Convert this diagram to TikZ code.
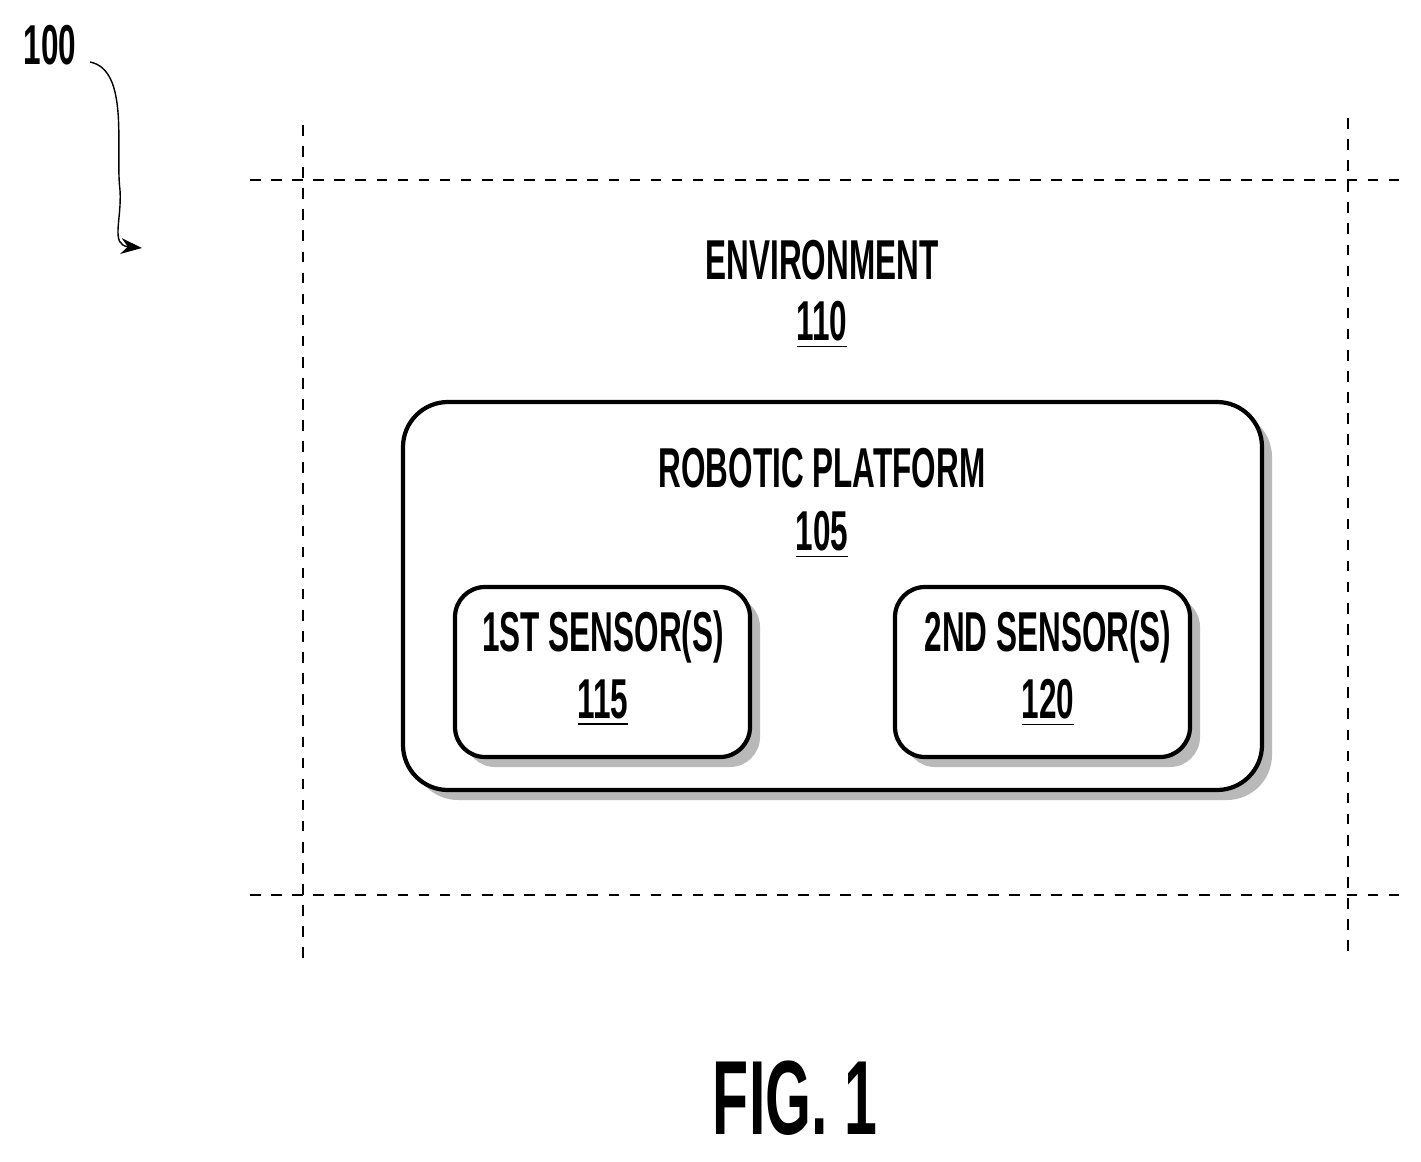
\documentclass[tikz,border=0pt]{standalone}
\usepackage{fontspec}
\setmainfont{Liberation Sans}
\usetikzlibrary{shadows,arrows.meta}
\newcommand{\nar}[1]{\scalebox{0.56}[1]{\bfseries #1}}
\tikzset{
  lbl/.style={font=\fontsize{16}{19}\selectfont, align=center},
  box/.style={draw, very thick, rounded corners=0.45cm, fill=white,
    drop shadow={shadow xshift=0.1cm, shadow yshift=-0.1cm, fill=gray!55, opacity=1}},
  border/.style={dashed, thin}
}
\begin{document}
\begin{tikzpicture}
    \useasboundingbox (0,0) rectangle (14.21,-11.61);
    % dashed environment boundary
    \draw[border](2.5,-1.8)--(14.0,-1.8);
    \draw[border](2.5,-8.95)--(14.0,-8.95);
    \draw[border](3.03,-1.25)--(3.03,-9.58);
    \draw[border](13.48,-1.18)--(13.48,-9.52);

    \node[lbl] (env) at (8.22,-2.6) {\nar{ENVIRONMENT}};
    \node[lbl] (envnum) at (8.22,-3.25) {\nar{\underline{110}}};

    \draw[box](4.03,-4.02) rectangle (12.62,-7.9);
    \node[lbl] (rob) at (8.22,-4.68) {\nar{ROBOTIC PLATFORM}};
    \node[lbl] (robnum) at (8.22,-5.35) {\nar{\underline{105}}};

    \draw[box,rounded corners=0.3cm](4.55,-5.87) rectangle (7.5,-7.57);
    \node[lbl] (s1) at (6.03,-6.37) {\nar{1ST SENSOR(S)}};
    \node[lbl] (s1num) at (6.03,-7.03) {\nar{\underline{115}}};

    \draw[box,rounded corners=0.3cm](8.95,-5.87) rectangle (11.9,-7.57);
    \node[lbl] (s2) at (10.48,-6.37) {\nar{2ND SENSOR(S)}};
    \node[lbl] (s2num) at (10.48,-7.03) {\nar{\underline{120}}};

    \node[lbl] (ref) at (0.5,-0.45) {\nar{100}};
    \coordinate (tip) at (1.42,-2.48);
    \draw[-{Stealth[length=6pt]},thin](0.9,-0.62) .. controls (1.3,-0.7) and (1.15,-1.5) .. (1.2,-1.9)
        .. controls (1.22,-2.2) and (1.1,-2.45) .. (tip);

    \node[font=\fontsize{30}{36}\selectfont] (fig) at (7.95,-10.98) {\nar{FIG. 1}};
\end{tikzpicture}
\end{document}
